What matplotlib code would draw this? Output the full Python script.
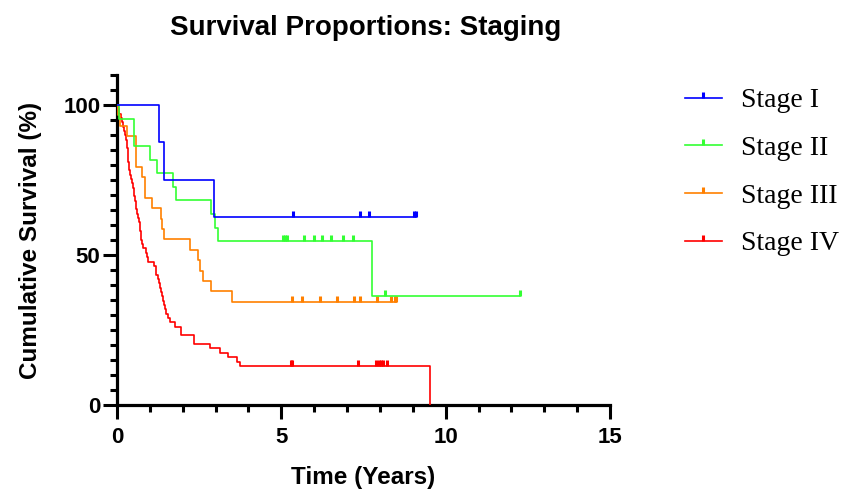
import numpy as np
import matplotlib
matplotlib.use('Agg')
import matplotlib.pyplot as plt
from matplotlib.lines import Line2D

# Kaplan-Meier steps: event times (years) and survival (%) after each step
stage1_t = [0, 1.28, 1.43, 2.95, 9.10]
stage1_s = [100, 87.5, 75.0, 62.5, 62.5]
stage1_cens = [5.36, 7.39, 7.67, 9.03, 9.10]

stage2_t = [0, 0.07, 0.53, 1.01, 1.23, 1.69, 1.81, 2.87, 2.97, 3.07, 7.77, 12.25]
stage2_s = [100, 95.45, 86.36, 81.82, 77.27, 72.73, 68.18, 63.64, 59.09, 54.55, 36.36, 36.36]
stage2_cens = [5.06, 5.12, 5.18, 5.68, 5.98, 6.23, 6.52, 6.89, 7.19, 8.15, 12.25]

stage3_t = [0, 0.03, 0.10, 0.30, 0.58, 0.75, 0.85, 1.08, 1.35, 1.38, 1.43, 2.23, 2.46,
            2.52, 2.62, 2.85, 3.50, 8.50]
stage3_s = [100, 96.55, 93.10, 89.66, 79.31, 75.86, 68.97, 65.52, 62.07, 58.62, 55.17, 51.72,
            48.28, 44.83, 41.38, 37.93, 34.48, 34.48]
stage3_cens = [5.34, 5.62, 6.17, 6.70, 7.22, 7.39, 7.92, 8.35, 8.45, 8.50]

stage4_t = [0, 0.03, 0.06, 0.12, 0.15, 0.18, 0.20, 0.24, 0.27, 0.30, 0.31, 0.32, 0.33, 0.35,
            0.37, 0.38, 0.40, 0.42, 0.45, 0.50, 0.52, 0.53, 0.55, 0.57, 0.59, 0.61, 0.64, 0.67,
            0.69, 0.71, 0.73, 0.74, 0.76, 0.80, 0.88, 0.92, 0.95, 1.12, 1.18, 1.20, 1.24, 1.27,
            1.30, 1.33, 1.36, 1.40, 1.43, 1.46, 1.50, 1.55, 1.62, 1.78, 1.96, 2.33, 2.84, 3.14,
            3.37, 3.65, 3.75, 9.52]
stage4_s = [100, 98.55, 97.10, 95.65, 94.20, 92.75, 91.30, 89.86, 88.41, 86.96, 85.51, 84.06,
            82.61, 81.16, 79.71, 78.26, 76.81, 75.36, 73.91, 72.46, 71.01, 69.57, 68.12, 66.67,
            65.22, 63.77, 62.32, 60.87, 59.42, 57.97, 56.52, 55.07, 53.62, 52.17, 50.72, 49.28,
            47.83, 46.38, 44.93, 43.48, 42.03, 40.58, 39.13, 37.68, 36.23, 34.78, 33.33, 31.88,
            30.43, 28.99, 27.54, 26.09, 23.19, 20.29, 18.84, 17.39, 15.94, 14.49, 13.04, 0]
stage4_cens = [5.28, 5.33, 7.32, 7.89, 7.96, 8.02, 8.08, 8.23]

labels = ['Stage I', 'Stage II', 'Stage III', 'Stage IV']
colors = ['#0000ff', '#33ff33', '#ff8000', '#ff0000']
curves = [(stage1_t, stage1_s, stage1_cens),
          (stage2_t, stage2_s, stage2_cens),
          (stage3_t, stage3_s, stage3_cens),
          (stage4_t, stage4_s, stage4_cens)]

fig = plt.figure(figsize=(8.41, 4.93), dpi=100)
ax = fig.add_axes([0.1391, 0.1785, 0.5862, 0.6694])

def level_at(t, s, x):
    idx = np.searchsorted(t, x, side='right') - 1
    return np.asarray(s)[idx]

for i in reversed(range(4)):
    t, s, cens = curves[i]
    ax.step(t, s, where='post', color=colors[i], lw=1.2, zorder=3 + (3 - i))
    # censored subjects: small tick pointing up from the curve
    ax.plot(cens, level_at(t, s, cens), linestyle='none', marker=2, markersize=4.5,
            markeredgewidth=2.2, color=colors[i], zorder=3 + (3 - i))

ax.set_xlim(0, 15)
ax.set_ylim(0, 110)
ax.set_xticks([0, 5, 10, 15])
ax.set_xticks(np.arange(0, 16, 1), minor=True)
ax.set_yticks([0, 50, 100])
ax.set_yticks(np.arange(0, 111, 5), minor=True)
for side in ['top', 'right']:
    ax.spines[side].set_visible(False)
for side in ['left', 'bottom']:
    ax.spines[side].set_linewidth(2.3)
ax.tick_params(which='major', length=10, width=2.2, labelsize=16, pad=2)
ax.tick_params(which='minor', length=5, width=2.2)
ax.tick_params(axis='x', which='major', pad=6)
ax.spines['left'].set_capstyle('projecting')
ax.spines['bottom'].set_capstyle('projecting')
for lab in ax.get_xticklabels() + ax.get_yticklabels():
    lab.set_fontfamily('Liberation Sans')
    lab.set_fontweight('bold')

ax.set_xlabel('Time (Years)', fontsize=17.5, fontweight='bold', family='Liberation Sans', labelpad=13)
ax.set_ylabel('Cumulative Survival (%)', fontsize=17.5, fontweight='bold', family='Liberation Sans', labelpad=15)

fig.text(365.5 / 841, 1 - 28 / 493, 'Survival Proportions: Staging', fontsize=20,
         fontweight='bold', family='Liberation Sans', ha='center', va='center')

handles = [Line2D([0], [0], color=c, lw=1.2, marker=2, markersize=4.5, markeredgewidth=2.2)
           for c in colors]
fig.legend(handles, labels, loc='upper left', bbox_to_anchor=(685 / 841, 1 - 88 / 493),
           frameon=False, prop={'family': 'Liberation Serif', 'size': 20}, numpoints=1,
           handlelength=1.33, handletextpad=0.7, labelspacing=0.8, borderpad=0, borderaxespad=0)

fig.savefig('out.png', dpi=100)
